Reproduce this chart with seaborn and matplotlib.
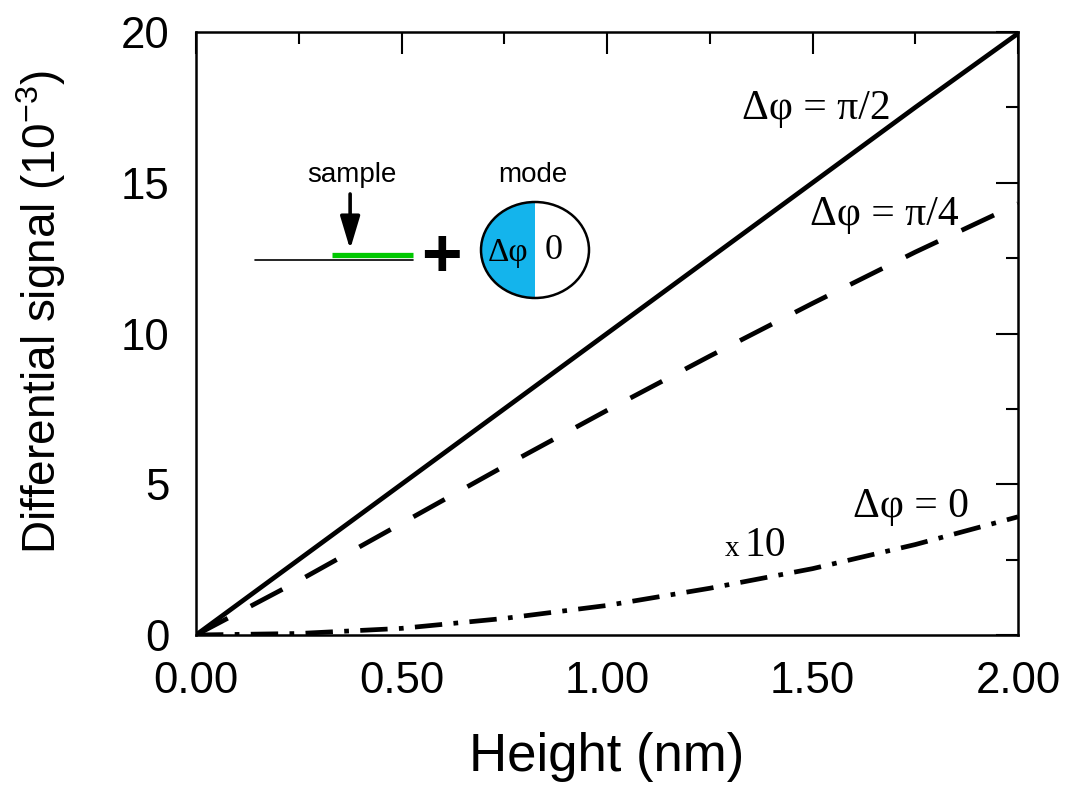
import numpy as np
import pandas as pd
import seaborn as sns
import matplotlib
matplotlib.use("Agg")
import matplotlib.pyplot as plt
from matplotlib.patches import Circle, Wedge
from matplotlib.ticker import MultipleLocator, FormatStrFormatter

height = [0.0, 0.25, 0.5, 0.75, 1.0, 1.25, 1.5, 1.75, 2.0]
sig_pi2 = [0.0, 2.5, 5.0, 7.5, 10.0, 12.5, 15.0, 17.5, 19.95]
sig_pi4 = [0.0, 1.8, 3.7, 5.6, 7.45, 9.25, 11.0, 12.7, 14.3]
sig_0 = [0.0, 0.05, 0.22, 0.55, 0.98, 1.55, 2.2, 3.0, 3.92]

sns.set_theme(style="white")
plt.rcParams['font.family'] = ['Liberation Sans', 'DejaVu Sans']
plt.rcParams['mathtext.fontset'] = 'custom'
plt.rcParams['mathtext.rm'] = 'Liberation Sans'
plt.rcParams['mathtext.it'] = 'Liberation Sans'
plt.rcParams['text.color'] = 'black'

fig = plt.figure(figsize=(10.72, 7.89), dpi=100)
ax = fig.add_axes([196/1072, 1-635/789, (1018-196)/1072, (635-32)/789])

LW = 3.4
df = pd.DataFrame({"h": height, "a": sig_pi2, "b": sig_pi4, "c": sig_0})
sns.lineplot(data=df, x="h", y="a", ax=ax, color="black", lw=LW)
sns.lineplot(data=df, x="h", y="b", ax=ax, color="black", lw=LW,
             linestyle=(0, (7.6, 5.5)))
sns.lineplot(data=df, x="h", y="c", ax=ax, color="black", lw=LW,
             linestyle=(0, (5.8, 2.4, 1.0, 2.4)))

ax.set_xlim(0, 2.0)
ax.set_ylim(0, 20)
ax.xaxis.set_major_locator(MultipleLocator(0.5))
ax.xaxis.set_minor_locator(MultipleLocator(0.25))
ax.yaxis.set_major_locator(MultipleLocator(5))
ax.yaxis.set_minor_locator(MultipleLocator(2.5))
ax.xaxis.set_major_formatter(FormatStrFormatter('%.2f'))
ax.tick_params(which='both', direction='in', top=True, right=True, color='black',
               labelsize=31.5, labelcolor='black', pad=19)
ax.tick_params(which='major', length=16, width=1.5)
ax.tick_params(which='minor', length=8.5, width=1.5)
for s in ax.spines.values():
    s.set_color('black')
    s.set_linewidth(1.8)
ax.set_xlabel("Height (nm)", fontsize=38, color='black', labelpad=21)
ax.set_ylabel(r"Differential signal (10$\mathregular{^{-3}}$)", fontsize=33,
              color='black')
ax.yaxis.set_label_coords(-0.156, 0.535)

serif = ['Liberation Serif', 'DejaVu Serif']
ax.text(1.328, 17.1, "Δφ = π/2", family=serif, fontsize=30, va='baseline', ha='left')
ax.text(1.494, 13.6, "Δφ = π/4", family=serif, fontsize=30, va='baseline', ha='left')
ax.text(1.599, 3.92, "Δφ = 0", family=serif, fontsize=30, va='baseline', ha='left')
ax.text(1.287, 2.62, "x", family=serif, fontsize=21, va='baseline', ha='left')
ax.text(1.335, 2.62, "10", family=serif, fontsize=30, va='baseline', ha='left')

# inset schematic
ax.plot([0.144, 0.528], [12.45, 12.45], color='black', lw=1.2)
ax.plot([0.331, 0.528], [12.6, 12.6], color='#00c800', lw=3.8, solid_capstyle='butt')
ax.annotate("", xy=(0.375, 12.7), xytext=(0.375, 14.72),
            arrowprops=dict(arrowstyle='-|>,head_width=0.3,head_length=1.0',
                            mutation_scale=20, color='black', lw=2.6))
ax.text(0.38, 15.03, "sample", fontsize=20, ha='center', va='baseline')
ax.text(0.82, 15.03, "mode", fontsize=20, ha='center', va='baseline')
ax.text(0.596, 12.5, "+", fontsize=50, fontweight='bold', ha='center', va='center')

iax = fig.add_axes([481/1072, 1-298/789, 108/1072, 96/789])
iax.set_xlim(-1, 1)
iax.set_ylim(-1, 1)
iax.axis('off')
iax.add_patch(Wedge((0, 0), 1.0, 90, 270, facecolor='#14b4ec', edgecolor='none', clip_on=False))
iax.add_patch(Circle((0, 0), 1.0, facecolor='none', edgecolor='black', lw=1.8, clip_on=False))
iax.text(-0.5, -0.05, "Δφ", family=serif, fontsize=24, ha='center', va='center')
iax.text(0.35, -0.02, "0", family=serif, fontsize=26, ha='center', va='center')

fig.savefig("out.png", dpi=100, facecolor='white')
